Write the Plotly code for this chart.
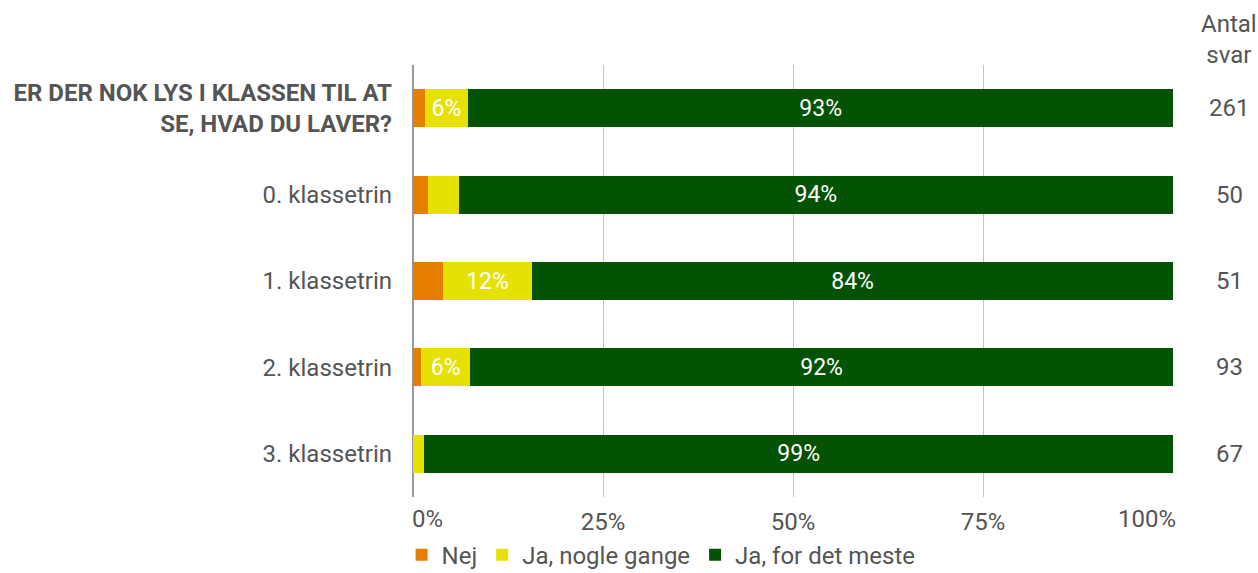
import plotly.graph_objects as go

CATEGORIES = [
    "<b>ER DER NOK LYS I KLASSEN TIL AT<br>SE, HVAD DU LAVER?</b>",
    "0. klassetrin",
    "1. klassetrin",
    "2. klassetrin",
    "3. klassetrin",
]
NEJ = [1.53, 2.0, 3.92, 1.08, 0.0]
JA_NOGLE = [5.75, 4.0, 11.76, 6.45, 1.49]
JA_MESTE = [92.72, 94.0, 84.31, 92.47, 98.51]
ANTAL = [261, 50, 51, 93, 67]

TICK_VALS = [0, 25, 50, 75, 100]
TICK_LABELS = ["0%", "25%", "50%", "75%", "100%"]

SERIES = [
    ("Nej", NEJ, "#E67E00"),
    ("Ja, nogle gange", JA_NOGLE, "#E6E100"),
    ("Ja, for det meste", JA_MESTE, "#045203"),
]

FONT = "Roboto"
TEXT_COLOR = "#555555"
FS = 24

fig = go.Figure()
for name, values, color in SERIES:
    labels = [f"{v:.0f}%" if v >= 5 else "" for v in values]
    fig.add_trace(go.Bar(
        name=name,
        y=CATEGORIES,
        x=values,
        orientation="h",
        marker=dict(color=color, line=dict(width=0)),
        width=0.44,
        text=labels,
        textposition="inside",
        insidetextanchor="middle",
        textfont=dict(color="white", size=23, family=FONT),
        hovertemplate=name + ": %{x:.1f}%<extra></extra>",
    ))

# "Antal svar" column on the right
for cat, n in zip(CATEGORIES, ANTAL):
    fig.add_annotation(
        x=1.0737, xref="paper", xanchor="center", y=cat, yref="y",
        text=str(n), showarrow=False,
        font=dict(size=FS, color=TEXT_COLOR, family=FONT),
    )
fig.add_annotation(
    x=1.0737, xref="paper", xanchor="center", y=1.0, yref="paper", yanchor="bottom",
    yshift=-6, text="Antal<br>svar", showarrow=False,
    font=dict(size=FS, color=TEXT_COLOR, family=FONT),
)

# edge tick labels are kept inside the plot width (left/right aligned)
for val, lab, anchor, shift in [(TICK_VALS[0], TICK_LABELS[0], "left", -3),
                                (TICK_VALS[-1], TICK_LABELS[-1], "right", 5)]:
    fig.add_annotation(
        x=val, xref="x", xanchor=anchor, xshift=shift,
        y=0, yref="paper", yanchor="top", yshift=-6,
        text=lab, showarrow=False,
        font=dict(size=FS, color=TEXT_COLOR, family=FONT),
    )

fig.update_xaxes(
    range=[0, 100],
    tickvals=TICK_VALS,
    ticktext=[""] + TICK_LABELS[1:-1] + [""],
    showgrid=True, gridcolor="#c4c4c4", gridwidth=1,
    zeroline=True, zerolinecolor="#999999", zerolinewidth=2,
    tickfont=dict(size=FS, color=TEXT_COLOR, family=FONT),
    ticklabelstandoff=8,
    automargin=False,
    fixedrange=True,
)
fig.update_yaxes(
    autorange="reversed",
    showgrid=False,
    tickfont=dict(size=FS, color=TEXT_COLOR, family=FONT),
    ticklabelstandoff=20,
    automargin=False,
    fixedrange=True,
)
fig.update_layout(
    barmode="stack",
    width=1258, height=573,
    margin=dict(l=413, r=85, t=65, b=76),
    plot_bgcolor="white", paper_bgcolor="white",
    font=dict(family=FONT, color=TEXT_COLOR),
    uniformtext=dict(mode="show", minsize=10),
    legend=dict(
        orientation="h",
        x=-0.015, xref="paper", xanchor="left",
        y=0.031, yref="container", yanchor="middle",
        font=dict(size=FS, color=TEXT_COLOR, family=FONT),
        traceorder="normal",
    ),
)

# the page's default body margin would push the chart 8px off the window
fig.write_html(
    "out.html",
    config={"displayModeBar": False},
    post_script="document.body.style.margin = '0';",
)
